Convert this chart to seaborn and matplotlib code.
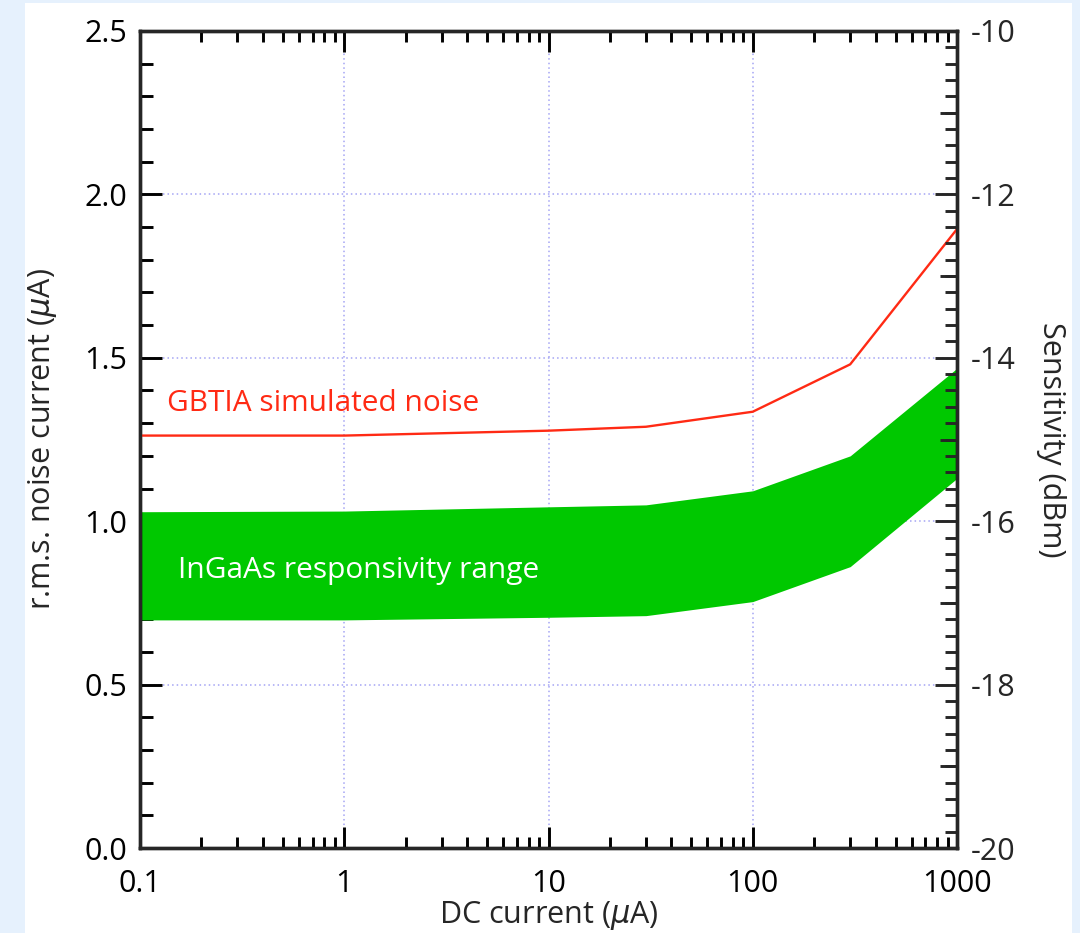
import numpy as np
import pandas as pd
import matplotlib

matplotlib.use("Agg")
import matplotlib.pyplot as plt
import matplotlib.ticker as mticker
from matplotlib.patches import Rectangle
import seaborn as sns

# values
dc_current = [0.1, 1, 10, 30, 100, 300, 1000]
noise_sim = [1.262, 1.262, 1.277, 1.289, 1.335, 1.480, 1.894]
ingaas_upper = [1.029, 1.031, 1.044, 1.050, 1.093, 1.200, 1.468]
ingaas_lower = [0.698, 0.698, 0.706, 0.711, 0.754, 0.861, 1.131]

x_ticks = [0.1, 1, 10, 100, 1000]
x_tick_labels = ["0.1", "1", "10", "100", "1000"]
left_ticks = [0.0, 0.5, 1.0, 1.5, 2.0, 2.5]
right_ticks = [-20, -18, -16, -14, -12, -10]
right_mid_ticks = [-19, -17, -15, -13, -11]

df = pd.DataFrame({"dc": dc_current, "noise": noise_sim,
                   "upper": ingaas_upper, "lower": ingaas_lower})

sns.set_style("ticks")
plt.rcParams["font.family"] = ["Open Sans", "DejaVu Sans"]
plt.rcParams["mathtext.fontset"] = "dejavusans"

RED = "#ff2a14"
GREEN = "#00c800"
GRID = "#a4a4f4"
FS = 22

fig = plt.figure(figsize=(10.8, 9.33), dpi=100, facecolor="#e6f1fd")
# white panel behind the chart
fig.patches.append(Rectangle((25 / 1080, 0), (1072 - 25) / 1080, 1 - 3 / 933,
                             transform=fig.transFigure, facecolor="white",
                             edgecolor="none", zorder=-10))

ax = fig.add_axes([140 / 1080, 1 - 848 / 933, (957 - 140) / 1080, (848 - 31) / 933])
ax.set_facecolor("white")

ax.fill_between(df["dc"], df["lower"], df["upper"], color=GREEN, linewidth=0, zorder=2)
sns.lineplot(data=df, x="dc", y="noise", color=RED, linewidth=1.7, ax=ax, zorder=3)

ax.set_xscale("log")
ax.set_xlim(0.1, 1000)
ax.set_ylim(0, 2.5)
ax.set_xticks(x_ticks)
ax.set_xticklabels(x_tick_labels)
ax.xaxis.set_minor_locator(mticker.LogLocator(base=10, subs=np.arange(2, 10)))
ax.xaxis.set_minor_formatter(mticker.NullFormatter())
ax.set_yticks(left_ticks)
ax.set_yticklabels([f"{v:.1f}" for v in left_ticks])
ax.yaxis.set_minor_locator(mticker.MultipleLocator(0.1))

ax.grid(True, which="major", linestyle=(0, (1, 2)), color=GRID, linewidth=1.1)
ax.set_axisbelow(True)

for s in ax.spines.values():
    s.set_linewidth(2.4)
    s.set_color("black")

ax.tick_params(axis="both", which="both", direction="in", width=2.1, colors="black",
               labelsize=FS)
ax.tick_params(axis="x", which="both", top=True, bottom=True)
ax.tick_params(axis="x", which="major", length=15, pad=15)
ax.tick_params(axis="x", which="minor", length=8)
ax.tick_params(axis="y", which="both", left=True, right=False)
ax.tick_params(axis="y", which="major", length=16, pad=9)
ax.tick_params(axis="y", which="minor", length=9)

ax.set_xlabel(r"DC current ($\mu$A)", fontsize=FS, labelpad=0)
ax.set_ylabel(r"r.m.s. noise current ($\mu$A)", fontsize=FS, labelpad=18)

# right axis: sensitivity
ax2 = ax.twinx()
ax2.set_ylim(-20, -10)
ax2.set_yticks(right_ticks)
ax2.set_yticklabels([str(v) for v in right_ticks])
ax2.yaxis.set_minor_locator(mticker.MultipleLocator(0.2))
ax2.tick_params(axis="y", which="both", direction="in", width=2.1, labelsize=FS,
                left=False, right=True)
ax2.tick_params(axis="y", which="major", length=16, pad=10)
ax2.tick_params(axis="y", which="minor", length=9)
for s in ax2.spines.values():
    s.set_linewidth(2.4)
ax2.set_ylabel("Sensitivity (dBm)", fontsize=FS, rotation=270, labelpad=36)

ax3 = ax.twinx()
ax3.set_ylim(-20, -10)
ax3.set_yticks(right_mid_ticks)
ax3.set_yticklabels([])
ax3.tick_params(axis="y", direction="in", width=2.1, length=12, left=False, right=True)
for s in ax3.spines.values():
    s.set_visible(False)

ax.text(0.136, 1.36, "GBTIA simulated noise", color=RED, fontsize=21.5,
        ha="left", va="center", zorder=4)
ax.text(0.153, 0.85, "InGaAs responsivity range", color="white", fontsize=21.5,
        ha="left", va="center", zorder=4)

fig.savefig("out.png", dpi=100, facecolor=fig.get_facecolor())
